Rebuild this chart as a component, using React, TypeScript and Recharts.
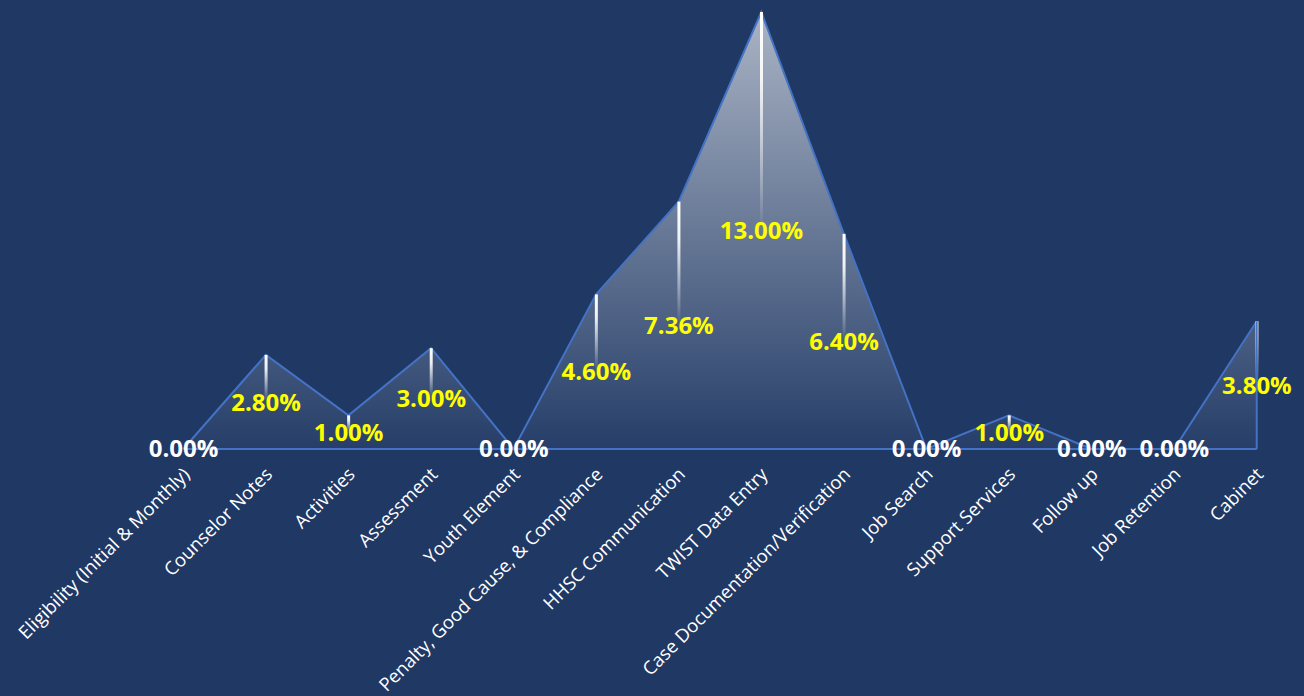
import { ComposedChart, Area, Bar, XAxis, YAxis, LabelList, ReferenceLine } from "recharts"

const categories = [
  "Eligibility (Initial & Monthly)",
  "Counselor Notes",
  "Activities",
  "Assessment",
  "Youth Element",
  "Penalty, Good Cause, & Compliance",
  "HHSC Communication",
  "TWIST Data Entry",
  "Case Documentation/Verification",
  "Job Search",
  "Support Services",
  "Follow up",
  "Job Retention",
  "Cabinet",
]

const shares = [0, 2.8, 1.0, 3.0, 0, 4.6, 7.36, 13.0, 6.4, 0, 1.0, 0, 0, 3.8]

const data = categories.map((name, i) => ({ name, value: shares[i] }))

const BG = "#1F3864"
const LINE = "#4472C4"

function CategoryTick(props: any) {
  const { x, y, payload } = props
  return (
    <g transform={`translate(${x + 3},${y + 14})`}>
      <text
        transform="rotate(-45)"
        textAnchor="end"
        dy="0.35em"
        fill="#FFFFFF"
        fontSize={18.5}
        fontFamily="'Open Sans', sans-serif"
      >
        {payload.value}
      </text>
    </g>
  )
}

function ValueLabel(props: any) {
  const { x, y, width, height, value } = props
  const cx = x + width / 2
  const cy = y + height / 2
  return (
    <text
      x={cx}
      y={cy}
      dy="0.36em"
      textAnchor="middle"
      fill={value === 0 ? "#FFFFFF" : "#FFFF00"}
      fontSize={24}
      fontWeight="bold"
      fontFamily="'Open Sans', sans-serif"
    >
      {`${Number(value).toFixed(2)}%`}
    </text>
  )
}

export default function App() {
  const last = categories.length - 1
  return (
    <div style={{ position: "fixed", left: 0, top: 0, width: 1304, height: 696, background: BG }}>
      <ComposedChart
        width={1304}
        height={696}
        data={data}
        margin={{ top: 12, right: 6, left: 142, bottom: 7 }}
      >
        <defs>
          <linearGradient id="areaFill" x1="0" y1="0" x2="0" y2="1">
            <stop offset="0%" stopColor="#FFFFFF" stopOpacity={0.62} />
            <stop offset="100%" stopColor="#FFFFFF" stopOpacity={0.03} />
          </linearGradient>
          <linearGradient id="dropFill" x1="0" y1="0" x2="0" y2="1">
            <stop offset="0%" stopColor="#FFFFFF" stopOpacity={1} />
            <stop offset="15%" stopColor="#FFFFFF" stopOpacity={0.9} />
            <stop offset="50%" stopColor="#FFFFFF" stopOpacity={0} />
          </linearGradient>
        </defs>
        <XAxis
          dataKey="name"
          axisLine={false}
          tickLine={false}
          interval={0}
          height={240}
          tick={<CategoryTick />}
        />
        <YAxis hide domain={[0, 13]} />
        <Area
          type="linear"
          dataKey="value"
          stroke={LINE}
          strokeWidth={2}
          fill="url(#areaFill)"
          fillOpacity={1}
          dot={false}
          activeDot={false}
          isAnimationActive={false}
        />
        <ReferenceLine
          segment={[{ x: categories[0], y: 0 }, { x: categories[last], y: 0 }]}
          stroke={LINE}
          strokeWidth={2}
        />
        <ReferenceLine
          segment={[{ x: categories[last], y: 0 }, { x: categories[last], y: shares[last] }]}
          stroke={LINE}
          strokeWidth={2}
        />
        <Bar dataKey="value" barSize={3} minPointSize={1} fill="url(#dropFill)" isAnimationActive={false}>
          <LabelList dataKey="value" content={<ValueLabel />} />
        </Bar>
      </ComposedChart>
    </div>
  )
}
